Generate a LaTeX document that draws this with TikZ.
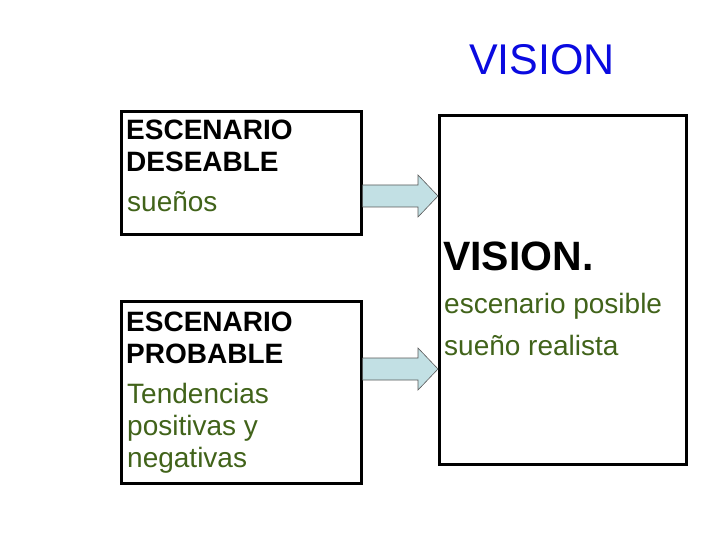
\documentclass[tikz,border=0pt]{standalone}
\usepackage{fontspec}
\setmainfont{Liberation Sans}
\usepackage{xcolor}
\usetikzlibrary{calc}
\definecolor{verde}{HTML}{41631A}
\definecolor{azul}{HTML}{0A0AE0}
\definecolor{celeste}{HTML}{C2E0E4}
\tikzset{
  caja/.style={draw=black,line width=2.6bp,fill=white,anchor=north west,inner sep=0pt},
  tit/.style={anchor=base west,inner sep=0pt,font=\fontsize{28bp}{32bp}\selectfont\bfseries},
  txt/.style={anchor=base west,inner sep=0pt,font=\fontsize{28bp}{32bp}\selectfont,text=verde},
  flecha/.style={draw=black!65,line width=0.6bp,fill=celeste},
}
\begin{document}
\begin{tikzpicture}[x=1bp,y=-1bp]
\useasboundingbox (0,0) rectangle (720,540);
% title
\node[anchor=base west,inner sep=0pt,font=\fontsize{43bp}{48bp}\selectfont,text=azul] (titulo) at (469,75) {VISION};
% boxes
\node[caja,minimum width=240bp,minimum height=123bp] (des) at (120,110) {};
\node[caja,minimum width=240bp,minimum height=182bp] (pro) at (120,300) {};
\node[caja,minimum width=247bp,minimum height=349bp] (vis) at (438,114) {};
% texts
\node[tit] (d1) at (126,140) {ESCENARIO};
\node[tit] (d2) at (126,172) {DESEABLE};
\node[txt] (d3) at (127,212) {sueños};
\node[tit] (p1) at (126,331) {ESCENARIO};
\node[tit] (p2) at (126,363) {PROBABLE};
\node[txt] (p3) at (127,403) {Tendencias};
\node[txt] (p4) at (127,435) {positivas y};
\node[txt] (p5) at (127,467) {negativas};
\node[tit,font=\fontsize{41bp}{48bp}\selectfont\bfseries] (v1) at (443,271) {VISION.};
\node[txt] (v2) at (444,313) {escenario posible};
\node[txt] (v3) at (444,355) {sueño realista};
% arrows
\foreach \a/\y in {des/196,pro/369}{
  \coordinate (t) at (\a.east |- 0,\y);
  \coordinate (h) at (vis.west |- 0,\y);
  \draw[flecha] ($(t)+(0,-11)$) -- ($(h)+(-20,-11)$) -- ($(h)+(-20,-21)$) -- (h)
    -- ($(h)+(-20,21)$) -- ($(h)+(-20,11)$) -- ($(t)+(0,11)$) -- cycle;
}
\end{tikzpicture}
\end{document}
